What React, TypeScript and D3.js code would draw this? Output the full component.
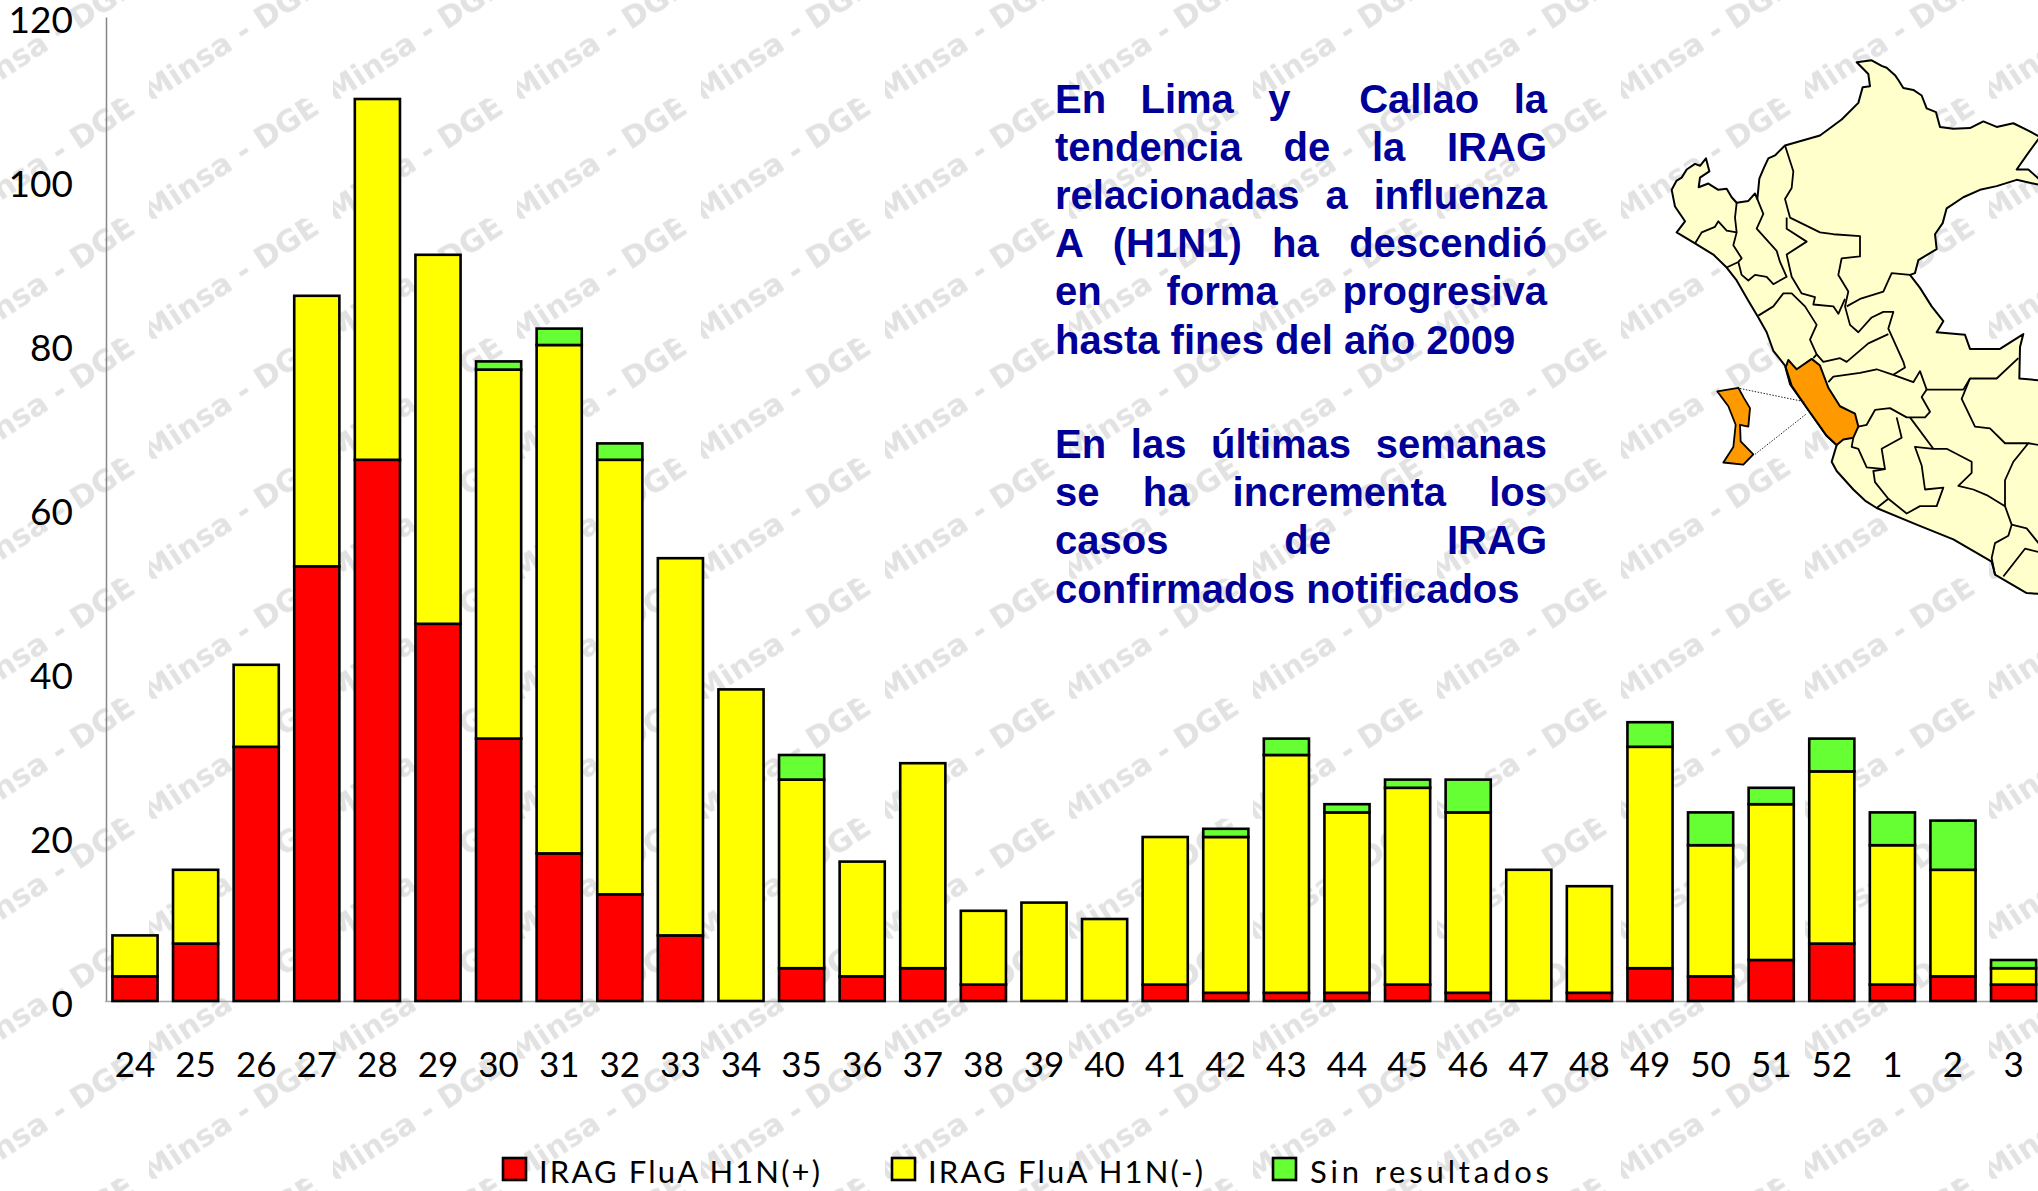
import React, { useRef, useEffect } from 'react';
import * as d3 from 'd3';

const weeks = ['24','25','26','27','28','29','30','31','32','33','34','35','36','37','38','39','40','41','42','43','44','45','46','47','48','49','50','51','52','1','2','3'];
const positives = [3,7,31,53,66,46,32,18,13,8,0,4,3,4,2,0,0,2,1,1,1,2,1,0,1,4,3,5,7,2,3,2];
const negatives = [5,9,10,33,44,45,45,62,53,46,38,23,14,25,9,12,10,18,19,29,22,24,22,16,13,27,16,19,21,17,13,2];
const noResult = [0,0,0,0,0,0,1,2,2,0,0,3,0,0,0,0,0,0,1,2,1,1,4,0,0,3,4,2,4,4,6,1];

const seriesKeys = ['pos', 'neg', 'sin'];
const seriesNames = ['IRAG FluA H1N(+)', 'IRAG FluA H1N(-)', 'Sin resultados'];
const seriesColors = ['#ff0000', '#ffff00', '#66ff33'];
const yTicks = [0, 20, 40, 60, 80, 100, 120];

const noteLines = [
  'En Lima y  Callao la',
  'tendencia de la IRAG',
  'relacionadas a influenza',
  'A (H1N1) ha descendió',
  'en forma progresiva',
  'hasta fines del año 2009',
  '',
  'En las últimas semanas',
  'se ha incrementa los',
  'casos de IRAG',
  'confirmados notificados',
];
const noteJustified = [true, true, true, true, true, false, false, true, true, true, false];

// map of Peru
const peruOutline = [[155,405],[170,380],[185,372],[200,350],[225,335],[240,340],[258,320],[268,355],[240,372],[236,398],[265,388],[295,405],[320,402],[335,425],[350,440],[385,435],[405,415],[412,430],[418,375],[432,345],[445,320],[465,312],[495,285],[600,258],[665,215],[715,170],[728,128],[750,125],[745,92],[710,60],[755,55],[785,70],[800,75],[825,95],[835,108],[850,130],[880,135],[905,150],[920,185],[948,195],[960,235],[1000,240],[1050,238],[1090,220],[1130,235],[1180,225],[1225,245],[1260,262],[1225,305],[1190,350],[1225,350],[1260,378],[1260,392],[1190,378],[1130,395],[1080,405],[1030,425],[980,455],[968,495],[945,525],[950,565],[895,595],[885,630],[870,635],[900,670],[935,720],[970,760],[950,790],[1035,797],[1050,835],[1140,835],[1210,795],[1200,830],[1198,915],[1260,920],[1260,1497],[1220,1495],[1125,1445],[1115,1410],[1000,1350],[890,1310],[770,1265],[735,1245],[700,1215],[650,1165],[635,1140],[650,1095],[620,1070],[565,1000],[510,930],[495,880],[460,840],[440,790],[415,750],[385,705],[350,650],[320,615],[280,580],[225,550],[170,520],[195,490],[165,450]];
const limaOutline = [[497,885],[505,865],[520,880],[530,890],[575,862],[600,880],[625,940],[660,990],[705,1010],[715,1045],[700,1075],[670,1080],[650,1095],[620,1070],[565,1000],[515,935]];
const callaoOutline = [[292,950],[355,940],[372,968],[390,995],[385,1045],[360,1040],[362,1085],[400,1120],[370,1148],[310,1142],[340,1100],[347,1040],[325,990]];
const callaoLinks = [[[360,942],[555,978]],[[405,1120],[560,1010]]];
const peruBorders = [
  [[225,550],[245,520],[285,505],[295,490],[320,515],[350,520]],
  [[350,440],[345,480],[350,520],[340,555],[365,590],[355,600],[320,615]],
  [[355,600],[365,635],[385,650],[405,635],[440,640],[460,660],[500,640],[480,600],[470,570],[410,510],[430,470],[412,430]],
  [[495,285],[520,355],[515,400],[495,430],[510,480],[600,520],[640,525],[720,530],[720,585],[665,590],[655,635],[685,680],[675,720],[690,770],[715,790],[755,750],[790,735],[820,735],[805,780],[850,870],[855,885],[820,905],[770,890],[720,900],[640,910],[625,925]],
  [[500,480],[500,510],[560,545],[500,580],[515,640],[545,685],[585,695],[580,715],[640,720],[655,740],[675,700]],
  [[415,745],[460,720],[490,685],[515,685],[555,720],[590,770],[570,810],[590,850],[580,860]],
  [[590,850],[610,870],[660,860],[680,870],[745,820],[805,795]],
  [[680,720],[720,700],[790,680],[815,630],[870,635]],
  [[920,945],[900,895],[880,925],[820,905]],
  [[920,945],[905,965],[930,1005],[915,1020],[860,1020],[810,995],[765,1000],[740,1040],[715,1045]],
  [[830,1020],[845,1075],[785,1105],[795,1160],[740,1155],[715,1105],[695,1100],[700,1075]],
  [[795,1160],[760,1165],[765,1195],[805,1240],[770,1265]],
  [[805,1240],[860,1280],[900,1260],[950,1260],[970,1210],[915,1215],[905,1150],[885,1100],[940,1105],[980,1105],[1055,1140],[1055,1170],[1015,1205],[1060,1215],[1100,1230],[1155,1260],[1175,1310],[1165,1340],[1125,1360],[1115,1400],[1125,1445]],
  [[870,1020],[940,1105]],
  [[920,945],[1030,945],[1050,915],[1130,915],[1195,860]],
  [[1050,915],[1025,970],[1065,1045],[1110,1050],[1155,1090],[1225,1090],[1180,1140],[1155,1190],[1155,1260]],
  [[1225,1090],[1260,1095]],
  [[1175,1310],[1220,1320],[1260,1365]],
  [[1150,1450],[1215,1375],[1260,1385]],
];

const W = 2038;
const H = 1191;
const labelFont = 'Lato, sans-serif';

const App = () => {
  const svgRef = useRef<SVGSVGElement>(null);

  useEffect(() => {
    const svg = d3.select(svgRef.current);
    svg.selectAll('*').remove();

    // watermark is a repeating tile, that is why the letters get cut
    const tile = svg.append('defs').append('pattern')
      .attr('id', 'wm')
      .attr('patternUnits', 'userSpaceOnUse')
      .attr('x', 149).attr('y', 98.7)
      .attr('width', 184).attr('height', 120);
    tile.append('text')
      .attr('transform', 'translate(2,124) rotate(-33)')
      .attr('font-family', 'DejaVu Sans, sans-serif')
      .attr('font-weight', 'bold')
      .attr('font-size', 30)
      .attr('fill', '#e2e2e2')
      .text('Minsa - DGE');
    svg.append('rect').attr('width', W).attr('height', H).attr('fill', 'url(#wm)');

    const x = d3.scaleBand()
      .domain(weeks.map((w, i) => i + '|' + w))
      .range([104.7, 104.7 + 60.6 * weeks.length])
      .paddingInner(0.255)
      .paddingOuter(0.1275);
    const y = d3.scaleLinear().domain([0, 120]).range([1001, 17]);

    const rows = weeks.map((w, i) => ({
      key: i + '|' + w,
      pos: positives[i],
      neg: negatives[i],
      sin: noResult[i],
    }));
    const stacked = d3.stack().keys(seriesKeys)(rows as any);

    const mapX = (v: number) => 1620 + v / 3;
    const mapY = (v: number) => 40 + v / 2.703;
    const line = d3.line().x(d => mapX(d[0])).y(d => mapY(d[1]));
    const map = svg.append('g').attr('stroke', '#000').attr('stroke-linejoin', 'round');
    map.append('path').attr('d', line(peruOutline as any) + 'Z').attr('fill', '#ffffcc').attr('stroke-width', 2);
    map.append('path').attr('d', line(limaOutline as any) + 'Z').attr('fill', '#ff9900').attr('stroke-width', 2);
    peruBorders.forEach(b => {
      map.append('path').attr('d', line(b as any)).attr('fill', 'none').attr('stroke-width', 1.8);
    });
    map.append('path').attr('d', line(callaoOutline as any) + 'Z').attr('fill', '#ff9900').attr('stroke-width', 1.8);
    callaoLinks.forEach(p => {
      map.append('path').attr('d', line(p as any)).attr('fill', 'none')
        .attr('stroke', '#222').attr('stroke-width', 1).attr('stroke-dasharray', '1.5 1.5');
    });

    const yAxis = d3.axisLeft(y).tickValues(yTicks).tickSize(0).tickPadding(33);
    const yG = svg.append('g').attr('transform', 'translate(106,0)').call(yAxis);
    yG.select('.domain').attr('stroke', '#868686').attr('stroke-width', 1.5);
    yG.selectAll('text')
      .attr('font-family', labelFont).attr('font-size', 37).attr('fill', '#000').attr('dy', '0.43em');

    const xAxis = d3.axisBottom(x).tickSize(0).tickPadding(51).tickFormat(d => String(d).split('|')[1]);
    const xG = svg.append('g').attr('transform', 'translate(0,1001)').call(xAxis);
    xG.select('.domain').attr('stroke', '#a6a6a6').attr('stroke-width', 1.5);
    xG.selectAll('text')
      .attr('font-family', labelFont).attr('font-size', 35).attr('fill', '#000');

    svg.append('g').selectAll('g').data(stacked).enter().append('g')
      .attr('fill', (d, i) => seriesColors[i])
      .selectAll('rect')
      .data(d => d.filter(s => s[1] > s[0]))
      .enter().append('rect')
      .attr('x', d => x((d.data as any).key) as number)
      .attr('y', d => y(d[1]))
      .attr('width', x.bandwidth())
      .attr('height', d => y(d[0]) - y(d[1]))
      .attr('stroke', '#000')
      .attr('stroke-width', 2.6);

    // justified note, word-spacing is measured per line
    const note = svg.append('g')
      .attr('font-family', 'Liberation Sans, Arial, sans-serif')
      .attr('font-weight', 'bold')
      .attr('font-size', 40)
      .attr('fill', '#000099');
    noteLines.forEach((t, i) => {
      if (!t) return;
      const el = note.append('text')
        .attr('x', 1055)
        .attr('y', 112.5 + i * 48.2 + (i > 6 ? 8 : 0))
        .style('white-space', 'pre')
        .text(t);
      if (noteJustified[i]) {
        const node = el.node() as SVGTextElement;
        const gaps = t.split(' ').length - 1;
        el.attr('word-spacing', (1547 - 1055 - node.getComputedTextLength()) / gaps);
      }
    });

    const legendX = [503, 892, 1273];
    const legendTextX = [539, 928, 1310];
    const legendTextW = [281, 275, 239];
    const legend = svg.append('g');
    seriesNames.forEach((name, i) => {
      legend.append('rect')
        .attr('x', legendX[i]).attr('y', 1158)
        .attr('width', 23).attr('height', 22)
        .attr('fill', seriesColors[i]).attr('stroke', '#000').attr('stroke-width', 2.6);
      legend.append('text')
        .attr('x', legendTextX[i]).attr('y', 1183)
        .attr('font-family', labelFont).attr('font-size', 31)
        .attr('textLength', legendTextW[i])
        .attr('fill', '#000')
        .text(name);
    });
  }, []);

  return (
    <svg
      ref={svgRef}
      width={W}
      height={H}
      style={{ position: 'absolute', left: 0, top: 0, background: '#fff' }}
    />
  );
};

export default App;
